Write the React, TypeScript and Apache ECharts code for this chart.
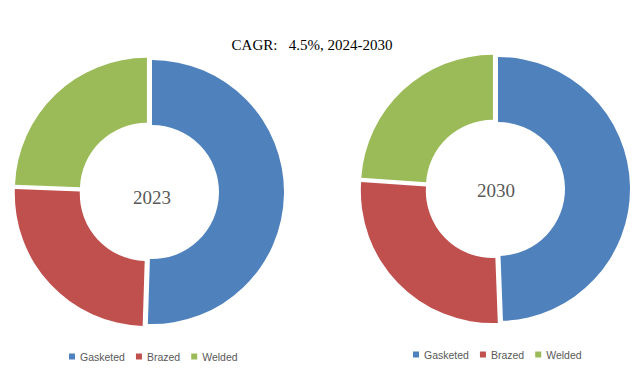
import React, { useEffect, useRef } from "react";
import * as echarts from "echarts";

const categories = ["Gasketed", "Brazed", "Welded"];
const values2023 = [50.5, 25.1, 24.4];
const values2030 = [49.4, 26.7, 23.9];
const yearLabels = ["2023", "2030"];
const titleText = "CAGR:   4.5%, 2024-2030";
const colors = ["#4F81BD", "#C0504D", "#9BBB59"];

const EXPLODE = 3;
const R_IN = 67;
const R_OUT = 132;

function donutSeries(values: number[], cx: number, cy: number) {
  const total = values.reduce((a, b) => a + b, 0);
  let cum = 0;
  return categories.map((_, i) => {
    const mid = ((cum + values[i] / 2) / total) * Math.PI * 2;
    cum += values[i];
    const dx = EXPLODE * Math.sin(mid);
    const dy = -EXPLODE * Math.cos(mid);
    return {
      type: "pie",
      radius: [R_IN, R_OUT],
      center: [cx + dx, cy + dy],
      startAngle: 90,
      clockwise: true,
      silent: true,
      label: { show: false },
      labelLine: { show: false },
      emphasis: { disabled: true },
      itemStyle: { borderWidth: 0 },
      data: categories.map((name, j) => ({
        name,
        value: values[j],
        itemStyle: { color: j === i ? colors[j] : "rgba(0,0,0,0)" },
      })),
    };
  });
}

export default function App() {
  const ref = useRef<HTMLDivElement>(null);
  useEffect(() => {
    document.body.style.margin = "0";
    const chart = echarts.init(ref.current!, null, { renderer: "svg" });
    const legendData = categories.map((name, i) => ({
      name,
      itemStyle: { color: colors[i] },
    }));
    const legendCommon = {
      data: legendData,
      icon: "rect",
      itemWidth: 6,
      itemHeight: 6,
      itemGap: 11,
      padding: 0,
      selectedMode: false,
      textStyle: { color: "#595959", fontSize: 10.5, fontFamily: "Liberation Sans" },
    };
    chart.setOption({
      animation: false,
      backgroundColor: "#ffffff",
      legend: [
        { ...legendCommon, left: 69, top: 351 },
        { ...legendCommon, left: 413, top: 349 },
      ],
      graphic: [
        {
          type: "text",
          x: 312,
          y: 45,
          style: {
            text: titleText,
            fill: "#000000",
            font: "15px 'Liberation Serif'",
            align: "center",
            verticalAlign: "middle",
          },
        },
        {
          type: "text",
          x: 152,
          y: 197,
          style: {
            text: yearLabels[0],
            fill: "#595959",
            font: "19px 'Liberation Serif'",
            align: "center",
            verticalAlign: "middle",
          },
        },
        {
          type: "text",
          x: 496,
          y: 190,
          style: {
            text: yearLabels[1],
            fill: "#595959",
            font: "19px 'Liberation Serif'",
            align: "center",
            verticalAlign: "middle",
          },
        },
      ],
      series: [...donutSeries(values2023, 149, 192), ...donutSeries(values2030, 495, 189)],
    });
    return () => chart.dispose();
  }, []);
  return <div ref={ref} style={{ width: 643, height: 379 }} />;
}
